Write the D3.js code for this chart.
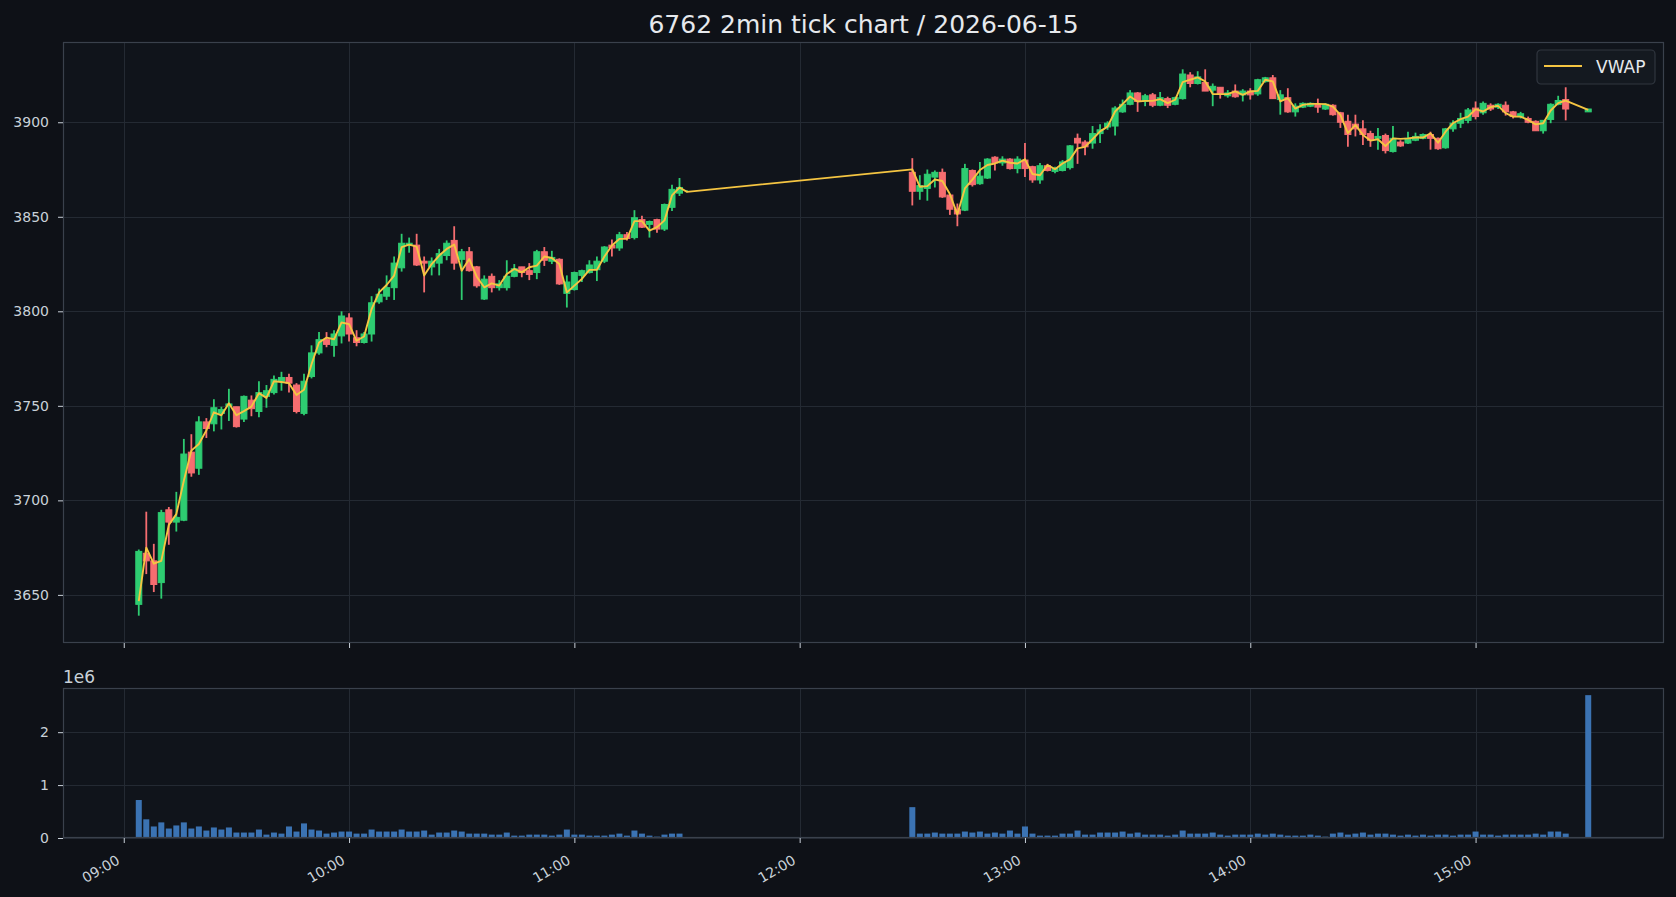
<!DOCTYPE html>
<meta charset="utf-8">
<body style="margin:0;background:#0e1117">
<script src="https://d3js.org/d3.v7.min.js"></script>
<script>
var day = "2026-06-15";
var title = "6762 2min tick chart / 2026-06-15";

var times = [
  "09:04","09:06","09:08","09:10","09:12","09:14","09:16","09:18","09:20","09:22",
  "09:24","09:26","09:28","09:30","09:32","09:34","09:36","09:38","09:40","09:42",
  "09:44","09:46","09:48","09:50","09:52","09:54","09:56","09:58","10:00","10:02",
  "10:04","10:06","10:08","10:10","10:12","10:14","10:16","10:18","10:20","10:22",
  "10:24","10:26","10:28","10:30","10:32","10:34","10:36","10:38","10:40","10:42",
  "10:44","10:46","10:48","10:50","10:52","10:54","10:56","10:58","11:00","11:02",
  "11:04","11:06","11:08","11:10","11:12","11:14","11:16","11:18","11:20","11:22",
  "11:24","11:26","11:28","11:30",
  "12:30","12:32","12:34","12:36","12:38","12:40","12:42","12:44","12:46","12:48",
  "12:50","12:52","12:54","12:56","12:58","13:00","13:02","13:04","13:06","13:08",
  "13:10","13:12","13:14","13:16","13:18","13:20","13:22","13:24","13:26","13:28",
  "13:30","13:32","13:34","13:36","13:38","13:40","13:42","13:44","13:46","13:48",
  "13:50","13:52","13:54","13:56","13:58","14:00","14:02","14:04","14:06","14:08",
  "14:10","14:12","14:14","14:16","14:18","14:20","14:22","14:24","14:26","14:28",
  "14:30","14:32","14:34","14:36","14:38","14:40","14:42","14:44","14:46","14:48",
  "14:50","14:52","14:54","14:56","14:58","15:00","15:02","15:04","15:06","15:08",
  "15:10","15:12","15:14","15:16","15:18","15:20","15:22","15:24","15:30"
];

var opens = [
  3645, 3672, 3668, 3656.5, 3695, 3688.5, 3689.5, 3725.5, 3717, 3741.5,
  3740.5, 3746, 3750, 3749.5, 3743, 3753, 3747, 3755, 3757, 3763,
  3765, 3761, 3746, 3765.5, 3778, 3785, 3782, 3787, 3796.5, 3786,
  3783.5, 3788, 3805, 3808, 3812.5, 3823, 3835, 3835, 3826.5, 3823.5,
  3825.5, 3829.5, 3837.5, 3827.5, 3831.5, 3823.5, 3806.5, 3818.5, 3812.5, 3812.5,
  3818.5, 3823.5, 3821.5, 3820.5, 3831.5, 3826.5, 3827.5, 3809.5, 3811.5, 3819,
  3820.5, 3822, 3826.5, 3835, 3833.5, 3840.5, 3839, 3848.5, 3846, 3848.5,
  3843.5, 3855, 3862.5, 3863.5,
  3873.5, 3863.5, 3865, 3871, 3873.5, 3861.5, 3854, 3853.5, 3874.5, 3867.5,
  3870.5, 3881.5, 3878.5, 3880.5, 3875.5, 3880, 3876.5, 3869.5, 3877, 3874,
  3874.5, 3876, 3891.5, 3889.5, 3889, 3894, 3897.5, 3898, 3905.5, 3909.5,
  3915.5, 3911, 3914.5, 3909, 3912.5, 3909.5, 3912.5, 3925, 3920.5, 3921,
  3917, 3918.5, 3914, 3916.5, 3914.5, 3916.5, 3915, 3921.5, 3923.5, 3912,
  3913, 3905.5, 3908, 3908.5, 3909.5, 3907, 3909, 3905, 3900.5, 3899,
  3896.5, 3894, 3891.5, 3893, 3884.5, 3889.5, 3889, 3890.5, 3891.5, 3893.5,
  3891.5, 3886.5, 3896.5, 3899.5, 3901, 3907.5, 3905, 3909, 3908, 3909,
  3905.5, 3903, 3902, 3900.5, 3895.5, 3901.5, 3909.5, 3912, 3905.5
];

var highs = [
  3674, 3694, 3677, 3695, 3696.5, 3704.5, 3732.5, 3735, 3744.5, 3743.5,
  3753.5, 3749.5, 3759, 3749.5, 3755.5, 3755.5, 3763, 3761, 3766, 3768,
  3767, 3762, 3767, 3782, 3789, 3789, 3790, 3800, 3799, 3790,
  3789, 3808, 3812, 3819, 3829, 3841, 3839, 3841, 3829, 3828.5,
  3833, 3837.5, 3845, 3833, 3834, 3824, 3819, 3820, 3816.5, 3827,
  3825, 3823.5, 3825.5, 3832.5, 3834, 3832, 3828, 3819, 3821, 3822,
  3827, 3829, 3834.5, 3838, 3842, 3842, 3853.5, 3850.5, 3848, 3849,
  3857, 3867, 3870.5, 3864,
  3881, 3872, 3875, 3874.5, 3875.5, 3862, 3857, 3878, 3875, 3879,
  3881, 3882, 3882, 3881, 3882, 3889, 3877, 3878.5, 3878, 3876.5,
  3880, 3888, 3894, 3890.5, 3898, 3899, 3900.5, 3908.5, 3912, 3917,
  3916, 3915, 3915.5, 3916, 3913.5, 3913.5, 3928, 3926.5, 3927, 3928,
  3920.5, 3918.5, 3917, 3920, 3917.5, 3918, 3923, 3924, 3925, 3917,
  3918, 3910, 3910.5, 3910.5, 3912.5, 3910, 3909.5, 3905.5, 3904, 3904,
  3901, 3895.5, 3897, 3894, 3898, 3890.5, 3895, 3894.5, 3894, 3895,
  3892, 3897, 3901, 3905, 3907.5, 3911, 3911, 3910, 3910, 3911,
  3906, 3905.5, 3903, 3901, 3901, 3910, 3914, 3918.5, 3907
];

var lows = [
  3639, 3661, 3651.5, 3648, 3676.5, 3683.5, 3689, 3712.5, 3713.5, 3733,
  3736.5, 3737.5, 3742, 3738.5, 3741.5, 3744.5, 3744, 3749, 3756, 3758,
  3757, 3746, 3745, 3764.5, 3777, 3781, 3776, 3783, 3784, 3781.5,
  3783, 3784, 3804, 3806, 3806, 3821, 3831, 3824, 3810, 3819,
  3819, 3827, 3822, 3806, 3821, 3812.5, 3806, 3810, 3811, 3811,
  3818, 3818, 3816.5, 3817, 3824, 3825, 3814, 3802, 3811, 3815.5,
  3820, 3816, 3825.5, 3829, 3832, 3837.5, 3838, 3844, 3839, 3841.5,
  3842.5, 3853, 3861, 3863,
  3856, 3859, 3858.5, 3865.5, 3860, 3851, 3845, 3853, 3866, 3867,
  3870, 3874.5, 3877, 3875, 3873, 3871, 3868, 3867.5, 3874, 3873,
  3874, 3875, 3878, 3882.5, 3886, 3889, 3896, 3893, 3905, 3909,
  3905.5, 3908.5, 3908, 3908.5, 3907.5, 3909, 3912, 3918.5, 3920, 3916.5,
  3908.5, 3912.5, 3913, 3913, 3911, 3912, 3914, 3921, 3912.5, 3904,
  3905, 3903, 3907.5, 3908, 3905, 3906.5, 3903.5, 3897, 3887, 3892.5,
  3888, 3887, 3885.5, 3883.5, 3884, 3887, 3888.5, 3890, 3891, 3885.5,
  3885.5, 3886, 3895, 3897, 3899.5, 3901.5, 3904, 3906, 3907, 3903.5,
  3902, 3902, 3899.5, 3895.5, 3894, 3899.5, 3909, 3901, 3905.5
];

var closes = [
  3673, 3668, 3655.5, 3693.5, 3688.5, 3691, 3724.5, 3714.5, 3741.5, 3738,
  3749, 3748, 3751, 3739, 3755, 3748.5, 3757, 3758, 3764, 3765,
  3762, 3747, 3763, 3778, 3785, 3782.5, 3788, 3797.5, 3788, 3783.5,
  3788, 3804.5, 3809, 3812.5, 3825.5, 3836, 3836, 3824.5, 3825.5, 3826.5,
  3830.5, 3836, 3825.5, 3831.5, 3821.5, 3813.5, 3817, 3812.5, 3814.5, 3818.5,
  3822.5, 3820.5, 3819.5, 3831.5, 3827, 3828.5, 3814.5, 3815.5, 3820.5, 3821.5,
  3824.5, 3826.5, 3834, 3833.5, 3840.5, 3838.5, 3849.5, 3844.5, 3847.5, 3843.5,
  3856.5, 3864.5, 3865.5, 3863.5,
  3863.5, 3866.5, 3872.5, 3873.5, 3860.5, 3854, 3851.5, 3875.5, 3867, 3871.5,
  3880.5, 3878.5, 3880.5, 3875.5, 3880.5, 3875.5, 3869.5, 3877, 3874.5, 3875.5,
  3879, 3887.5, 3889, 3887, 3894, 3896, 3899.5, 3907.5, 3909.5, 3915.5,
  3911, 3914, 3909, 3913, 3909, 3913, 3925.5, 3920.5, 3924, 3916.5,
  3919, 3915, 3915.5, 3913.5, 3916.5, 3914.5, 3922.5, 3923.5, 3912.5, 3914.5,
  3905.5, 3908.5, 3910, 3910, 3908, 3909.5, 3904, 3900, 3893.5, 3896.5,
  3893.5, 3890.5, 3892.5, 3885, 3891.5, 3887.5, 3891.5, 3892.5, 3893.5, 3891.5,
  3886, 3896.5, 3899.5, 3902, 3906.5, 3903, 3910, 3907, 3909.5, 3905.5,
  3903, 3904.5, 3900, 3895.5, 3901, 3909.5, 3911.5, 3907, 3907
];

var vwap = [
  3646.7, 3675, 3666.5, 3668, 3687, 3692.7, 3710.4, 3726.3, 3729.8, 3737,
  3746.6, 3745, 3751.4, 3745, 3747.2, 3749.6, 3756.7, 3754.2, 3763, 3762.6,
  3762, 3755.7, 3758.5, 3772, 3783.5, 3786.1, 3785.2, 3794.1, 3793.2, 3784.4,
  3786.7, 3801.2, 3810, 3813.9, 3818.9, 3833.9, 3835.3, 3834.2, 3818.9, 3825,
  3829.5, 3833, 3835.3, 3821.5, 3827.7, 3818.3, 3812.7, 3814.8, 3813.6, 3819.7,
  3822.4, 3820.6, 3823.3, 3824.2, 3829, 3828.2, 3825, 3810, 3813.6, 3817.1,
  3821.9, 3821.9, 3829, 3834.8, 3838.3, 3838.3, 3847.7, 3847.7, 3842.7, 3844.5,
  3848.1, 3861.3, 3865.5, 3863.2,
  3875.1, 3865.9, 3866.2, 3869.7, 3868.9, 3862, 3851.3, 3865, 3869.7, 3874.7,
  3877.4, 3878.2, 3879.7, 3878.6, 3878.2, 3880.4, 3872.6, 3872, 3877.4, 3875.2,
  3878.2, 3880.4, 3886.2, 3887, 3891, 3895.2, 3897.7, 3905.7, 3909.6, 3913.6,
  3911, 3911.3, 3911.3, 3912.2, 3910.1, 3911.9, 3921.2, 3922.5, 3923.7, 3921.6,
  3914.9, 3914.9, 3914.9, 3916.3, 3914.5, 3916.3, 3916.6, 3922.5, 3921.6, 3911,
  3912.7, 3907.2, 3909.2, 3909.7, 3909.7, 3909.6, 3908.3, 3903.9, 3894.2, 3898.6,
  3893.3, 3890.3, 3891, 3887.4, 3891.5, 3891.2, 3891.5, 3891.9, 3891.9, 3894.2,
  3889.2, 3895, 3899.5, 3901.6, 3903, 3906.9, 3905.7, 3908, 3908.7, 3904.8,
  3903, 3903, 3901.2, 3898.9, 3899.5, 3906.2, 3910.1, 3911.5, 3906.5
];

var volumes = [
  718000, 353000, 218000, 295000, 179000, 237000, 295000, 179000, 218000, 141000,
  199000, 160000, 199000, 103000, 103000, 103000, 160000, 64000, 103000, 83000,
  218000, 122000, 276000, 160000, 141000, 83000, 103000, 122000, 122000, 83000,
  83000, 160000, 122000, 122000, 122000, 160000, 122000, 122000, 141000, 64000,
  103000, 103000, 141000, 122000, 83000, 83000, 83000, 64000, 64000, 103000,
  45000, 45000, 64000, 64000, 64000, 45000, 64000, 160000, 64000, 64000,
  45000, 45000, 45000, 64000, 83000, 45000, 141000, 83000, 45000, 26000,
  64000, 83000, 83000, 0,
  583000, 83000, 83000, 103000, 83000, 83000, 83000, 122000, 103000, 122000,
  83000, 103000, 83000, 141000, 83000, 218000, 83000, 45000, 45000, 45000,
  83000, 83000, 141000, 64000, 64000, 103000, 103000, 103000, 122000, 83000,
  103000, 64000, 64000, 64000, 45000, 64000, 141000, 83000, 83000, 83000,
  103000, 64000, 45000, 64000, 64000, 64000, 83000, 64000, 83000, 64000,
  45000, 45000, 45000, 64000, 45000, 26000, 83000, 103000, 64000, 83000,
  103000, 64000, 83000, 83000, 64000, 45000, 64000, 45000, 64000, 45000,
  64000, 64000, 45000, 64000, 64000, 122000, 64000, 64000, 45000, 64000,
  64000, 64000, 64000, 83000, 64000, 122000, 122000, 83000, 2700000
];

var priceTicks = [3650, 3700, 3750, 3800, 3850, 3900];
var volumeTicks = [0, 1000000, 2000000];
var volumeTickLabels = ["0", "1", "2"];
var hourTicks = ["09:00", "10:00", "11:00", "12:00", "13:00", "14:00", "15:00"];

var W = 1676, H = 897;
var left = 63, right = 1664;
var mainTop = 42, mainBottom = 643;
var volTop = 688, volBottom = 838;

var upColor = "#2ecc71", downColor = "#f66d70", vwapColor = "#f5c542";
var volColor = "#3b73b3", gridColor = "#242a33", frameColor = "#3a414c", textColor = "#c9d1d9";
var font = "DejaVu Sans, sans-serif";

var parseTime = d3.timeParse("%Y-%m-%d %H:%M");
var bars = times.map(function(t, i) {
  return {date: parseTime(day + " " + t), open: opens[i], high: highs[i], low: lows[i],
          close: closes[i], vwap: vwap[i], volume: volumes[i]};
});
var hourDates = hourTicks.map(function(t) { return parseTime(day + " " + t); });

var minute = 60 * 1000;
var half = 0.8 * minute;
var t0 = +d3.min(bars, function(d) { return d.date; }) - half;
var t1 = +d3.max(bars, function(d) { return d.date; }) + half;
var tPad = (t1 - t0) * 0.05;
var x = d3.scaleTime().domain([new Date(t0 - tPad), new Date(t1 + tPad)]).range([left, right]);

var lo = d3.min(bars, function(d) { return d.low; });
var hi = d3.max(bars, function(d) { return d.high; });
var yPad = (hi - lo) * 0.05;
var y = d3.scaleLinear().domain([lo - yPad, hi + yPad]).range([mainBottom, mainTop]);

var vMax = d3.max(bars, function(d) { return d.volume; });
var yv = d3.scaleLinear().domain([0, vMax * 1.05]).range([volBottom, volTop]);

var bodyW = x(new Date(t0 + 1.6 * minute)) - x(new Date(t0));

var svg = d3.select("body").append("svg")
  .attr("width", W)
  .attr("height", H)
  .style("display", "block")
  .style("font-family", font);

svg.append("rect").attr("width", W).attr("height", H).attr("fill", "#0e1117");

// axes backgrounds
[[mainTop, mainBottom], [volTop, volBottom]].forEach(function(p) {
  svg.append("rect")
    .attr("x", left).attr("y", p[0])
    .attr("width", right - left).attr("height", p[1] - p[0])
    .attr("fill", "#10141b");
});

// grid
var grid = svg.append("g").attr("stroke", gridColor).attr("stroke-width", 1);
hourDates.forEach(function(d) {
  var gx = Math.round(x(d)) + 0.5;
  grid.append("line").attr("x1", gx).attr("x2", gx).attr("y1", mainTop).attr("y2", mainBottom);
  grid.append("line").attr("x1", gx).attr("x2", gx).attr("y1", volTop).attr("y2", volBottom);
});
priceTicks.forEach(function(v) {
  var gy = Math.round(y(v)) + 0.5;
  grid.append("line").attr("x1", left).attr("x2", right).attr("y1", gy).attr("y2", gy);
});
volumeTicks.forEach(function(v) {
  var gy = Math.round(yv(v)) + 0.5;
  grid.append("line").attr("x1", left).attr("x2", right).attr("y1", gy).attr("y2", gy);
});

// volume bars
svg.append("g").selectAll("rect")
  .data(bars)
  .enter().append("rect")
  .attr("x", function(d) { return x(d.date) - bodyW / 2; })
  .attr("width", bodyW)
  .attr("y", function(d) { return yv(d.volume); })
  .attr("height", function(d) { return yv(0) - yv(d.volume); })
  .attr("fill", volColor);

// candles
var candle = svg.append("g").selectAll("g")
  .data(bars)
  .enter().append("g");

candle.append("line")
  .attr("x1", function(d) { return x(d.date); })
  .attr("x2", function(d) { return x(d.date); })
  .attr("y1", function(d) { return y(d.high); })
  .attr("y2", function(d) { return y(d.low); })
  .attr("stroke", function(d) { return d.close >= d.open ? upColor : downColor; })
  .attr("stroke-width", 1.8);

candle.append("rect")
  .attr("x", function(d) { return x(d.date) - bodyW / 2; })
  .attr("width", bodyW)
  .attr("y", function(d) { return y(Math.max(d.open, d.close)); })
  .attr("height", function(d) { return Math.abs(y(d.open) - y(d.close)); })
  .attr("fill", function(d) { return d.close >= d.open ? upColor : downColor; })
  .attr("stroke", function(d) { return d.close >= d.open ? upColor : downColor; })
  .attr("stroke-width", 1);

// vwap
var line = d3.line()
  .x(function(d) { return x(d.date); })
  .y(function(d) { return y(d.vwap); });

svg.append("path")
  .datum(bars)
  .attr("d", line)
  .attr("fill", "none")
  .attr("stroke", vwapColor)
  .attr("stroke-width", 1.9)
  .attr("stroke-linejoin", "round");

// frames
[[mainTop, mainBottom], [volTop, volBottom]].forEach(function(p) {
  svg.append("rect")
    .attr("x", left + 0.5).attr("y", p[0] + 0.5)
    .attr("width", right - left - 1).attr("height", p[1] - p[0] - 1)
    .attr("fill", "none")
    .attr("stroke", frameColor)
    .attr("stroke-width", 1.2);
});

function styleAxis(g) {
  g.select(".domain").remove();
  g.selectAll(".tick line").attr("stroke", textColor).attr("stroke-width", 1);
  g.selectAll(".tick text").attr("fill", textColor).style("font-size", "14px").style("font-family", font);
}

// y axes
svg.append("g")
  .attr("transform", "translate(" + left + ",0)")
  .call(d3.axisLeft(y).tickValues(priceTicks).tickSize(5).tickPadding(9).tickFormat(d3.format("d")))
  .call(styleAxis);

svg.append("g")
  .attr("transform", "translate(" + left + ",0)")
  .call(d3.axisLeft(yv).tickValues(volumeTicks).tickSize(5).tickPadding(9)
    .tickFormat(function(d, i) { return volumeTickLabels[i]; }))
  .call(styleAxis);

svg.append("text")
  .attr("x", left)
  .attr("y", volTop - 5)
  .attr("fill", textColor)
  .style("font-size", "17px")
  .text("1e6");

// x axes
svg.append("g")
  .attr("transform", "translate(0," + mainBottom + ")")
  .call(d3.axisBottom(x).tickValues(hourDates).tickSize(5).tickFormat(""))
  .call(styleAxis);

var xAxis = svg.append("g")
  .attr("transform", "translate(0," + volBottom + ")")
  .call(d3.axisBottom(x).tickValues(hourDates).tickSize(5).tickFormat(d3.timeFormat("%H:%M")))
  .call(styleAxis);

xAxis.selectAll(".tick text")
  .attr("y", null)
  .attr("dy", null)
  .attr("text-anchor", "end")
  .attr("transform", "translate(-3.5,25) rotate(-30)");

// title
svg.append("text")
  .attr("x", (left + right) / 2)
  .attr("y", 33)
  .attr("text-anchor", "middle")
  .attr("fill", "#e6e9ed")
  .style("font-size", "25px")
  .text(title);

// legend
var legend = svg.append("g").attr("transform", "translate(1537,50)");
legend.append("rect")
  .attr("width", 118).attr("height", 34).attr("rx", 4)
  .attr("fill", "#141920").attr("stroke", "#30363f").attr("stroke-width", 1.2);
legend.append("line")
  .attr("x1", 7).attr("x2", 45).attr("y1", 16).attr("y2", 16)
  .attr("stroke", vwapColor).attr("stroke-width", 1.9);
legend.append("text")
  .attr("x", 59).attr("y", 23)
  .attr("fill", "#e6e9ed")
  .style("font-size", "17px")
  .text("VWAP");
</script>
</body>
